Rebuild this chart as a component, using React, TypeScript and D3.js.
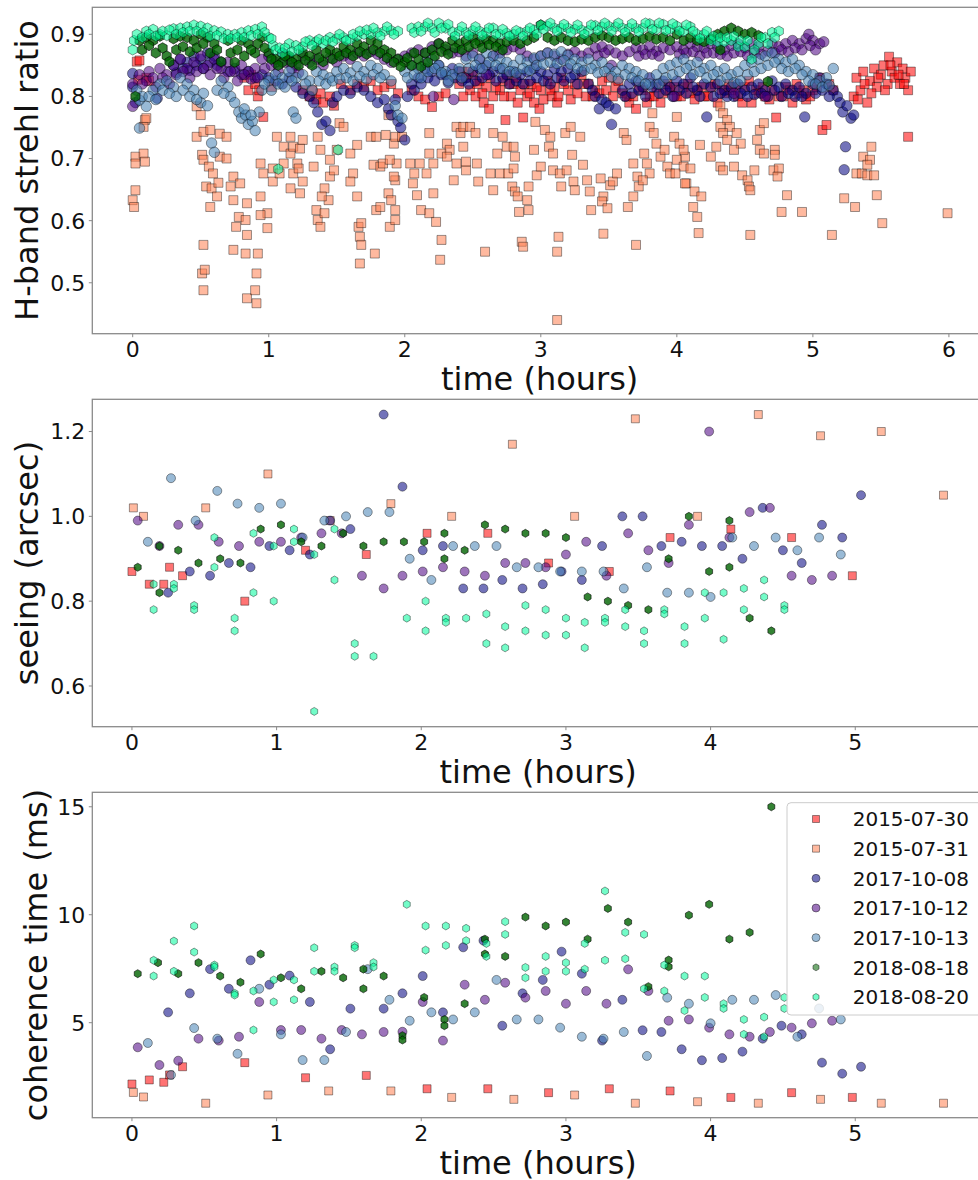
import { useEffect, useRef } from 'react';
import * as d3 from 'd3';

type Pt = [number, number]; // [time (hours), value]

const nights = ['2015-07-30', '2015-07-31', '2017-10-08', '2017-10-12', '2017-10-13', '2018-08-18', '2018-08-20'];
const nightColors = ['red', 'coral', 'navy', 'indigo', 'steelblue', 'darkgreen', 'mediumspringgreen'];
const nightShapes = ['square', 'square', 'circle', 'circle', 'circle', 'hexagon', 'hexagon'];

const timeTicksTop = [0, 1, 2, 3, 4, 5, 6];
const timeTicks = [0, 1, 2, 3, 4, 5];
const strehlTicks = [0.5, 0.6, 0.7, 0.8, 0.9];
const seeingTicks = [0.6, 0.8, 1.0, 1.2];
const coherenceTicks = [5, 10, 15];

// ---- H-band strehl ratio ----
const strehl0730: Pt[] = [[0.03,.856],[0.05,.858],[0.04,.827],[0.1,.83],[0.12,.825],[0.82,.83],[0.85,.81],[0.87,.835],[0.9,.82],[0.92,.8],[0.93,.81],[0.96,.767],[1.02,.815],[1.25,.81],[1.3,.8],[1.32,.81],[1.35,.795],[1.38,.805],[1.4,.79],[1.45,.8],[1.48,.785],[1.53,.82],[1.6,.81],[1.65,.82],[1.7,.815],[1.75,.825],[1.8,.81],[1.85,.815],[1.9,.82],[1.95,.805],[2.05,.81],[2.1,.8],[2.15,.795],[2.2,.783],[2.25,.8],[2.3,.805],[2.4,.82],[2.42,.84],[2.45,.83],[2.48,.81],[2.5,.835],[2.52,.8],[2.55,.825],[2.58,.79],[2.6,.815],[2.62,.78],[2.65,.8],[2.7,.81],[2.72,.825],[2.74,.762],[2.75,.835],[2.78,.8],[2.8,.82],[2.83,.79],[2.85,.81],[2.87,.766],[2.9,.8],[2.93,.82],[2.95,.79],[2.99,.78],[3.0,.81],[3.05,.825],[3.08,.8],[3.1,.815],[3.12,.79],[3.15,.83],[3.2,.81],[3.25,.82],[3.3,.835],[3.33,.8],[3.35,.82],[3.4,.81],[3.45,.825],[3.5,.83],[3.55,.815],[3.6,.805],[3.65,.79],[3.68,.8],[3.7,.78],[3.75,.81],[3.8,.8],[3.85,.815],[3.9,.805],[3.95,.81],[4.0,.8],[4.05,.815],[4.1,.805],[4.15,.81],[4.2,.8],[4.25,.815],[4.3,.79],[4.35,.805],[4.4,.81],[4.45,.8],[4.5,.815],[4.55,.79],[4.6,.805],[4.65,.8],[4.7,.81],[4.73,.766],[4.75,.8],[4.8,.815],[4.85,.79],[4.9,.805],[4.95,.795],[5.0,.81],[5.05,.83],[5.07,.746],[5.1,.754],[5.12,.82],[5.15,.81],[5.3,.8],[5.32,.83],[5.35,.81],[5.37,.84],[5.4,.79],[5.42,.825],[5.45,.845],[5.47,.815],[5.5,.835],[5.52,.85],[5.55,.82],[5.56,.864],[5.58,.84],[5.6,.83],[5.62,.855],[5.64,.82],[5.66,.845],[5.68,.83],[5.7,.735],[5.72,.84],[5.7,.81],
  [2.43,.8],[2.47,.84],[2.53,.82],[2.57,.805],[2.63,.83],[2.67,.815],[2.73,.8],[2.77,.82],[2.82,.83],[2.88,.82],[2.92,.805],[2.97,.815],[3.02,.795],[3.07,.81],[3.13,.8],[3.17,.82],[3.22,.795],[3.27,.805],[3.32,.82],[3.38,.8],[3.43,.805],[3.48,.81],[3.53,.8],[3.57,.825],[3.63,.8],[3.72,.815],[3.78,.79],[3.83,.8],[3.88,.79],[3.93,.82],[3.98,.815],[4.03,.8],[4.08,.82],[4.13,.795],[4.18,.815],[4.23,.8],[4.28,.82],[4.33,.81],[4.38,.82],[4.43,.815],[4.48,.79],[4.53,.825],[4.58,.81],[4.63,.815],[4.68,.795],[4.78,.8],[4.83,.81],[4.88,.82],[4.93,.81],[4.98,.8],[5.03,.815],[5.33,.795],[5.38,.82],[5.43,.805],[5.48,.83],[5.53,.81],[5.57,.85],[5.63,.835],[5.67,.82]];

const strehl0731: Pt[] = [[0.0,.633],[0.01,.622],[0.02,.649],[0.02,.703],[0.02,.692],[0.08,.708],[0.09,.695],[0.09,.762],[0.08,.751],[0.1,.765],[0.47,.784],[0.5,.77],[0.47,.735],[0.52,.743],[0.51,.706],[0.57,.746],[0.64,.74],[0.69,.735],[0.52,.698],[0.56,.687],[0.59,.676],[0.54,.655],[0.58,.652],[0.52,.561],[0.51,.515],[0.53,.521],[0.52,.488],[0.57,.622],[0.63,.661],[0.64,.703],[0.62,.639],[0.69,.7],[0.74,.671],[0.72,.655],[0.79,.66],[0.74,.633],[0.78,.606],[0.83,.601],[0.76,.59],[0.84,.628],[0.84,.577],[0.74,.553],[0.83,.547],[0.92,.547],[0.84,.475],[0.91,.467],[0.9,.488],[0.91,.515],[0.94,.692],[0.96,.676],[0.94,.639],[0.99,.612],[0.99,.588],[0.94,.609],[1.03,.684],[1.06,.735],[1.11,.719],[1.16,.708],[1.18,.719],[1.23,.716],[1.11,.692],[1.03,.663],[1.08,.676],[1.16,.652],[1.18,.676],[1.23,.644],[1.25,.663],[1.25,.73],[1.16,.735],[1.21,.692],[1.22,.684],[1.33,.687],[1.36,.735],[1.38,.714],[1.35,.617],[1.36,.601],[1.38,.59],[1.41,.612],[1.41,.652],[1.44,.633],[1.45,.698],[1.45,.671],[1.5,.714],[1.52,.757],[1.55,.751],[1.48,.681],[1.39,.639],[1.6,.708],[1.65,.722],[1.62,.676],[1.6,.663],[1.65,.639],[1.66,.59],[1.67,.574],[1.67,.531],[1.68,.561],[1.68,.596],[1.75,.735],[1.79,.735],[1.77,.69],[1.82,.687],[1.78,.547],[1.79,.617],[1.82,.622],[1.88,.644],[1.89,.59],[1.88,.77],[1.92,.724],[1.94,.692],[1.93,.665],[1.86,.738],[1.93,.735],[1.98,.735],[1.84,.692],[1.89,.698],[1.92,.671],[1.9,.633],[1.93,.617],[1.93,.601],[2.04,.692],[2.07,.676],[2.06,.66],[2.11,.692],[2.18,.708],[2.21,.692],[2.18,.741],[2.16,.676],[2.09,.641],[2.12,.617],[2.21,.644],[2.18,.612],[2.23,.598],[2.27,.569],[2.26,.537],[2.27,.708],[2.31,.724],[2.33,.714],[2.38,.751],[2.41,.741],[2.43,.751],[2.48,.751],[2.52,.741],[2.38,.692],[2.45,.681],[2.53,.692],[2.43,.719],[2.31,.703],[2.36,.665],[2.45,.695],[2.54,.663],[2.59,.55],[2.63,.676],[2.65,.649],[2.68,.708],[2.65,.741],[2.72,.735],[2.75,.719],[2.7,.676],[2.76,.676],[2.8,.684],[2.79,.655],[2.81,.647],[2.83,.639],[2.84,.614],[2.9,.633],[2.91,.617],[2.86,.566],[2.87,.558],[2.8,.719],[2.81,.703],[2.91,.655],[2.96,.759],[2.97,.673],[2.95,.714],[3.0,.687],[3.03,.746],[3.07,.735],[3.06,.719],[3.09,.708],[3.09,.681],[3.13,.574],[3.12,.55],[3.12,.44],[3.14,.676],[3.19,.681],[3.23,.706],[3.24,.663],[3.18,.741],[3.22,.751],[3.15,.655],[3.25,.649],[3.29,.735],[3.34,.665],[3.36,.647],[3.37,.617],[3.31,.69],[3.44,.668],[3.46,.639],[3.45,.631],[3.49,.62],[3.46,.579],[3.51,.657],[3.53,.663],[3.56,.676],[3.61,.741],[3.63,.73],[3.64,.622],[3.7,.561],[3.68,.692],[3.76,.708],[3.8,.751],[3.83,.741],[3.85,.724],[3.78,.692],[3.8,.676],[3.88,.703],[3.91,.714],[3.93,.687],[3.95,.676],[3.98,.735],[4.0,.767],[4.02,.724],[4.06,.703],[4.07,.66],[3.82,.773],[3.71,.671],[3.72,.655],[3.68,.639],[3.75,.665],[4.05,.714],[4.0,.698],[4.05,.687],[3.99,.676],[4.1,.684],[4.06,.66],[4.13,.647],[4.18,.639],[4.12,.622],[4.15,.606],[4.16,.58],[4.17,.722],[4.25,.703],[4.29,.719],[4.32,.784],[4.34,.773],[4.37,.762],[4.32,.751],[4.39,.751],[4.34,.741],[4.37,.73],[4.44,.741],[4.47,.724],[4.42,.714],[4.32,.687],[4.34,.681],[4.42,.687],[4.48,.673],[4.52,.665],[4.53,.655],[4.54,.649],[4.54,.577],[4.57,.681],[4.59,.73],[4.61,.746],[4.64,.757],[4.61,.714],[4.64,.708],[4.72,.714],[4.72,.706],[4.71,.681],[4.75,.684],[4.74,.671],[4.81,.641],[4.77,.614],[4.92,.614],[5.14,.577],[5.23,.636],[5.31,.622],[5.32,.676],[5.36,.676],[5.4,.673],[5.45,.673],[5.37,.703],[5.42,.698],[5.43,.719],[5.4,.69],[5.47,.641],[5.51,.596],[5.99,.612]];

const strehl1008: Pt[] = [[0.0,.837],[0.0,.815],[0.02,.79],[0.18,.797],[0.3,.85],[0.35,.86],[0.4,.855],[0.45,.865],[0.5,.86],[0.55,.87],[0.6,.865],[0.65,.855],[0.7,.84],[0.75,.845],[0.8,.835],[0.85,.84],[0.9,.83],[0.95,.835],[1.0,.83],[1.05,.825],[1.1,.82],[1.15,.83],[1.2,.815],[1.25,.805],[1.3,.8],[1.33,.79],[1.36,.775],[1.39,.755],[1.42,.76],[1.45,.745],[1.47,.79],[1.5,.8],[1.55,.81],[1.6,.805],[1.65,.815],[1.7,.81],[1.75,.8],[1.8,.79],[1.85,.795],[1.88,.78],[1.9,.77],[1.93,.795],[1.95,.76],[1.97,.75],[2.0,.73],[2.02,.8],[2.05,.82],[2.1,.83],[2.15,.845],[2.2,.84],[2.25,.85],[2.3,.835],[2.35,.845],[2.4,.84],[2.45,.83],[2.5,.84],[2.55,.845],[2.6,.85],[2.65,.84],[2.7,.845],[2.75,.835],[2.8,.84],[2.85,.835],[2.9,.84],[2.95,.845],[3.0,.84],[3.05,.835],[3.1,.845],[3.15,.84],[3.2,.845],[3.25,.835],[3.3,.84],[3.35,.82],[3.38,.81],[3.4,.8],[3.43,.78],[3.45,.795],[3.48,.79],[3.5,.785],[3.52,.755],[3.55,.78],[3.6,.81],[3.65,.82],[3.7,.825],[3.75,.815],[3.8,.83],[3.85,.82],[3.9,.825],[3.95,.815],[4.0,.825],[4.05,.82],[4.1,.83],[4.15,.81],[4.2,.82],[4.22,.767],[4.25,.815],[4.3,.82],[4.35,.81],[4.4,.815],[4.45,.82],[4.5,.81],[4.55,.815],[4.6,.82],[4.65,.81],[4.7,.825],[4.75,.815],[4.8,.82],[4.85,.81],[4.9,.815],[4.94,.767],[4.95,.805],[5.0,.82],[5.05,.83],[5.1,.82],[5.15,.81],[5.18,.8],[5.2,.79],[5.22,.775],[5.24,.719],[5.23,.682],[5.25,.785],[5.28,.765],[5.3,.77],
  [0.32,.838],[0.37,.845],[0.42,.842],[0.47,.85],[0.52,.845],[0.57,.855],[0.62,.85],[2.07,.81],[2.12,.82],[2.17,.83],[2.22,.825],[2.27,.835],[2.32,.822],[2.37,.83],[2.42,.825],[2.47,.82],[2.52,.825],[2.57,.83],[2.62,.835],[2.67,.825],[2.72,.83],[2.77,.82],[2.82,.825],[2.87,.82],[2.92,.825],[2.97,.83],[3.02,.825],[3.07,.82],[3.12,.83],[3.17,.825],[3.22,.83],[3.27,.82],[3.62,.8],[3.67,.805],[3.72,.81],[3.77,.8],[3.82,.815],[3.87,.805],[3.92,.81],[3.97,.8],[4.02,.81],[4.07,.805],[4.12,.815],[4.17,.8],[4.27,.8],[4.32,.805],[4.37,.8],[4.42,.8],[4.47,.805],[4.52,.8],[4.57,.803],[4.62,.805],[4.67,.8],[4.72,.81],[4.77,.8],[4.82,.805],[4.87,.8],[4.92,.8],[5.02,.805],[5.07,.81],[5.12,.8]];

const strehl1012: Pt[] = [[0.0,.784],[0.0,.82],[0.05,.835],[0.1,.825],[0.12,.84],[0.15,.83],[0.2,.845],[0.25,.835],[0.3,.85],[0.35,.86],[0.4,.845],[0.45,.855],[0.5,.865],[0.55,.85],[0.6,.86],[0.65,.845],[0.7,.855],[0.75,.84],[0.8,.85],[0.85,.84],[0.9,.845],[0.95,.86],[1.0,.865],[1.05,.855],[1.1,.87],[1.15,.86],[1.2,.85],[1.25,.865],[1.3,.855],[1.35,.86],[1.4,.85],[1.45,.862],[1.5,.855],[1.55,.865],[1.6,.86],[1.65,.87],[1.7,.865],[1.75,.872],[1.8,.868],[1.85,.86],[1.9,.855],[1.95,.86],[2.0,.865],[2.05,.87],[2.1,.875],[2.15,.87],[2.2,.88],[2.21,.8],[2.25,.885],[2.3,.875],[2.35,.87],[2.36,.795],[2.4,.872],[2.45,.865],[2.5,.87],[2.55,.86],[2.6,.835],[2.65,.865],[2.7,.87],[2.75,.875],[2.8,.88],[2.85,.875],[2.9,.865],[2.95,.86],[3.0,.865],[3.05,.87],[3.1,.865],[3.15,.86],[3.2,.868],[3.25,.872],[3.3,.865],[3.35,.87],[3.4,.878],[3.45,.88],[3.5,.875],[3.52,.85],[3.55,.87],[3.6,.865],[3.65,.872],[3.7,.878],[3.75,.875],[3.8,.88],[3.85,.873],[3.9,.878],[3.95,.875],[3.98,.8],[4.0,.88],[4.05,.875],[4.1,.885],[4.15,.88],[4.2,.878],[4.25,.885],[4.3,.88],[4.35,.875],[4.4,.882],[4.42,.805],[4.45,.885],[4.5,.878],[4.55,.885],[4.6,.88],[4.65,.8],[4.7,.885],[4.75,.88],[4.8,.885],[4.85,.89],[4.9,.885],[4.95,.893],[4.97,.9],[5.0,.89],[5.05,.885],[5.08,.888],
  [0.07,.82],[0.17,.815],[0.22,.83],[0.27,.82],[0.32,.835],[0.37,.84],[0.42,.83],[0.47,.84],[0.52,.845],[0.57,.835],[0.62,.845],[0.67,.83],[0.72,.84],[0.77,.825],[0.82,.835],[0.87,.828],[0.92,.83],[0.97,.845],[1.02,.85],[1.07,.84],[1.12,.855],[1.17,.845],[1.22,.838],[3.42,.865],[3.47,.87],[3.72,.865],[3.77,.868],[3.82,.868],[3.87,.865],[4.02,.868],[4.07,.87],[4.12,.872],[4.17,.865],[4.22,.87],[4.27,.87],[4.32,.868],[4.37,.865],[4.42,.87],[4.47,.872],[4.52,.866],[4.57,.87],[4.62,.868],[4.67,.873],[4.72,.87],[4.77,.875],[4.82,.872],[4.87,.878],[4.92,.875],[4.98,.882],[5.02,.875]];

const strehl1013: Pt[] = [[0.03,.81],[0.05,.794],[0.05,.749],[0.1,.784],[0.15,.81],[0.2,.82],[0.25,.825],[0.3,.815],[0.35,.83],[0.4,.82],[0.45,.81],[0.5,.79],[0.52,.805],[0.55,.785],[0.58,.725],[0.6,.71],[0.62,.81],[0.65,.825],[0.7,.815],[0.72,.8],[0.75,.79],[0.78,.775],[0.8,.765],[0.83,.77],[0.85,.755],[0.88,.76],[0.9,.745],[0.93,.775],[0.95,.81],[1.0,.825],[1.05,.835],[1.1,.83],[1.15,.84],[1.2,.83],[1.18,.775],[1.2,.765],[1.25,.835],[1.3,.825],[1.35,.84],[1.4,.835],[1.45,.83],[1.5,.84],[1.55,.845],[1.6,.838],[1.65,.848],[1.7,.84],[1.75,.85],[1.8,.845],[1.85,.835],[1.9,.825],[1.93,.785],[1.95,.77],[1.98,.765],[2.0,.84],[2.05,.85],[2.1,.845],[2.15,.855],[2.2,.86],[2.25,.85],[2.3,.84],[2.35,.835],[2.4,.845],[2.45,.86],[2.5,.865],[2.55,.86],[2.6,.87],[2.65,.865],[2.7,.86],[2.75,.855],[2.8,.85],[2.85,.86],[2.9,.855],[2.95,.862],[3.0,.865],[3.05,.87],[3.1,.868],[3.15,.872],[3.2,.866],[3.25,.86],[3.3,.855],[3.35,.86],[3.4,.85],[3.45,.855],[3.5,.845],[3.55,.84],[3.6,.85],[3.65,.845],[3.7,.84],[3.75,.835],[3.8,.82],[3.85,.835],[3.9,.845],[3.95,.85],[4.0,.855],[4.05,.86],[4.1,.85],[4.15,.855],[4.2,.845],[4.25,.85],[4.3,.84],[4.35,.845],[4.4,.835],[4.45,.84],[4.5,.85],[4.55,.855],[4.6,.86],[4.65,.865],[4.7,.87],[4.75,.86],[4.8,.855],[4.85,.86],[4.9,.85],[4.95,.84],[5.0,.835],[5.05,.825],[5.1,.83],[5.15,.845],
  [0.07,.8],[0.12,.8],[0.17,.795],[0.22,.81],[0.27,.805],[0.32,.8],[0.37,.81],[0.42,.8],[0.47,.795],[0.67,.805],[0.82,.78],[0.87,.77],[0.97,.82],[1.02,.81],[1.07,.82],[1.12,.815],[1.17,.825],[1.27,.82],[1.32,.81],[1.37,.825],[1.42,.82],[1.47,.825],[1.52,.828],[1.57,.83],[1.62,.825],[1.67,.832],[1.72,.828],[1.77,.835],[1.82,.83],[2.02,.83],[2.07,.835],[2.12,.83],[2.17,.84],[2.22,.845],[2.27,.838],[2.32,.825],[2.42,.83],[2.47,.845],[2.52,.85],[2.57,.845],[2.62,.855],[2.67,.85],[2.72,.845],[2.77,.84],[2.82,.838],[2.87,.845],[2.92,.842],[2.97,.85],[3.02,.852],[3.07,.855],[3.12,.853],[3.17,.858],[3.22,.852],[3.27,.845],[3.32,.842],[3.37,.845],[3.42,.838],[3.47,.84],[3.52,.832],[3.57,.828],[3.62,.835],[3.67,.83],[3.72,.825],[3.77,.82],[3.87,.82],[3.92,.83],[3.97,.835],[4.02,.84],[4.07,.845],[4.12,.835],[4.17,.84],[4.22,.83],[4.27,.835],[4.32,.825],[4.37,.83],[4.42,.822],[4.47,.825],[4.52,.835],[4.57,.84],[4.62,.845],[4.67,.85],[4.72,.855],[4.77,.845],[4.82,.84],[4.87,.845],[4.92,.835],[4.97,.825],[5.02,.82],[5.07,.815],[5.12,.818]];

const strehl0818: Pt[] = [[0.02,.8],[0.05,.89],[0.1,.895],[0.15,.89],[0.2,.897],[0.25,.865],[0.27,.856],[0.3,.893],[0.35,.897],[0.4,.895],[0.45,.89],[0.5,.9],[0.55,.895],[0.6,.885],[0.65,.856],[0.7,.89],[0.75,.855],[0.8,.89],[0.85,.885],[0.9,.87],[0.95,.895],[1.0,.87],[1.05,.86],[1.1,.855],[1.15,.865],[1.2,.86],[1.25,.87],[1.3,.865],[1.35,.875],[1.4,.856],[1.45,.875],[1.5,.87],[1.55,.88],[1.6,.875],[1.65,.885],[1.7,.88],[1.75,.89],[1.8,.885],[1.85,.875],[1.9,.87],[1.95,.86],[2.0,.855],[2.05,.85],[2.1,.86],[2.15,.87],[2.2,.875],[2.25,.885],[2.3,.88],[2.35,.89],[2.4,.885],[2.45,.89],[2.5,.895],[2.55,.888],[2.6,.892],[2.65,.89],[2.7,.885],[2.75,.888],[2.8,.89],[2.85,.885],[2.9,.89],[2.95,.895],[3.0,.915],[3.05,.895],[3.1,.89],[3.15,.895],[3.2,.89],[3.25,.888],[3.3,.892],[3.35,.89],[3.4,.895],[3.45,.898],[3.5,.895],[3.55,.89],[3.6,.893],[3.65,.895],[3.7,.89],[3.75,.893],[3.8,.897],[3.85,.892],[3.9,.895],[3.95,.89],[4.0,.9],[4.05,.89],[4.1,.895],[4.15,.89],[4.2,.888],[4.25,.893],[4.3,.9],[4.32,.875],[4.35,.905],[4.4,.91],[4.45,.905],[4.5,.9],[4.55,.903],[4.6,.898],[4.67,.824],
  [0.07,.875],[0.12,.882],[0.17,.87],[0.22,.878],[0.32,.875],[0.37,.88],[0.42,.872],[0.47,.878],[0.52,.885],[0.57,.87],[0.62,.875],[0.72,.87],[0.77,.875],[0.82,.865],[0.87,.875],[0.92,.885],[0.97,.878],[1.02,.86],[1.07,.85],[1.12,.865],[1.17,.855],[1.22,.85],[1.27,.858],[1.32,.85],[1.37,.862],[1.42,.87],[1.47,.86],[1.52,.865],[1.57,.87],[1.62,.865],[1.67,.872],[1.72,.868],[1.77,.875],[1.82,.87],[1.87,.862],[1.92,.855],[1.97,.848],[2.02,.862],[2.07,.87],[2.12,.848],[2.17,.855],[2.22,.865],[2.27,.872],[2.32,.868],[2.37,.878],[2.42,.875],[2.47,.88],[2.52,.885],[2.57,.878],[2.62,.883],[2.67,.88],[2.72,.875]];

const strehl0820: Pt[] = [[0,.875],[0.01,.89],[0.03,.9],[0.1,.905],[0.15,.908],[0.2,.9],[0.25,.898],[0.3,.909],[0.35,.91],[0.4,.912],[0.45,.915],[0.5,.913],[0.55,.91],[0.6,.906],[0.65,.904],[0.7,.9],[0.75,.9],[0.8,.903],[0.85,.906],[0.9,.908],[0.95,.912],[1.0,.895],[1.03,.882],[1.05,.875],[1.07,.683],[1.1,.87],[1.15,.885],[1.2,.882],[1.25,.88],[1.3,.89],[1.35,.888],[1.4,.885],[1.45,.895],[1.5,.893],[1.51,.714],[1.55,.895],[1.6,.892],[1.65,.897],[1.7,.9],[1.75,.9],[1.8,.903],[1.85,.905],[1.9,.906],[1.95,.905],[2.05,.91],[2.1,.912],[2.15,.912],[2.2,.91],[2.25,.918],[2.3,.91],[2.35,.904],[2.4,.905],[2.45,.903],[2.5,.906],[2.55,.905],[2.6,.903],[2.65,.91],[2.7,.9],[2.75,.902],[2.8,.9],[2.85,.903],[2.9,.905],[2.95,.907],[3.0,.915],[3.05,.913],[3.1,.91],[3.15,.91],[3.2,.91],[3.25,.908],[3.3,.907],[3.35,.906],[3.4,.914],[3.45,.912],[3.5,.913],[3.55,.912],[3.6,.91],[3.65,.91],[3.7,.91],[3.75,.91],[3.8,.917],[3.85,.908],[3.9,.916],[3.95,.908],[4.0,.913],[4.05,.905],[4.1,.912],[4.15,.9],[4.2,.9],[4.25,.89],[4.3,.888],[4.35,.888],[4.4,.89],[4.45,.88],[4.5,.88],[4.55,.86],[4.6,.885],[4.65,.895],[4.7,.903],[4.75,.905],
  [0.07,.895],[0.12,.9],[0.17,.897],[0.22,.905],[0.27,.907],[0.32,.9],[0.37,.903],[0.42,.905],[0.47,.905],[0.52,.903],[0.57,.897],[0.62,.898],[0.67,.893],[0.72,.893],[0.77,.895],[0.82,.895],[0.87,.898],[0.92,.9],[0.97,.903],[1.02,.893],[1.08,.878],[1.12,.878],[1.17,.872],[1.22,.875],[1.27,.888],[1.32,.882],[1.37,.892],[1.42,.89],[1.47,.888],[1.52,.9],[1.57,.89],[1.62,.9],[1.67,.905],[1.72,.907],[1.77,.91],[1.82,.897],[1.87,.912],[1.92,.9],[2.07,.903],[2.12,.905],[2.17,.918],[2.22,.903],[2.27,.91],[2.32,.916],[2.37,.897],[2.42,.912],[2.47,.898],[2.52,.912],[2.57,.898],[2.62,.91],[2.67,.9],[2.72,.908],[2.77,.897],[2.82,.906],[2.87,.897],[2.92,.91],[2.97,.9],[3.02,.908],[3.07,.918],[3.12,.905],[3.17,.916],[3.22,.903],[3.27,.915],[3.32,.9],[3.37,.915],[3.42,.906],[3.47,.918],[3.52,.905],[3.57,.918],[3.62,.903],[3.67,.917],[3.72,.904],[3.77,.918],[3.82,.908],[3.87,.918],[3.92,.906],[3.97,.917],[4.02,.905],[4.07,.915],[4.12,.905],[4.17,.893],[4.22,.905],[4.27,.897],[4.32,.895],[4.37,.895],[4.42,.897],[4.47,.89],[4.52,.89],[4.57,.875],[4.62,.895],[4.67,.885],[4.72,.895]];

// ---- seeing (arcsec) ----
const seeing0730: Pt[] = [[0,.87],[0.12,.84],[0.22,.84],[0.26,.88],[0.35,.86],[0.78,.8],[1.2,.92],[1.62,.91],[2.04,.96],[2.46,.96],[2.88,.89],[3.3,.87],[3.72,.95],[4.14,.97],[4.56,.95],[4.98,.86]];
const seeing0731: Pt[] = [[0.01,1.02],[0.08,1.0],[0.51,1.02],[0.94,1.1],[1.37,.99],[1.79,1.03],[2.21,1.0],[2.63,1.17],[3.06,1.0],[3.48,1.23],[3.91,1.0],[4.33,1.24],[4.76,1.19],[5.18,1.2],[5.61,1.05]];
const seeing1008: Pt[] = [[0.25,.82],[0.4,.87],[0.54,.86],[0.67,.89],[0.82,.88],[0.95,.93],[1.09,.92],[1.23,.91],[1.37,.99],[1.51,.97],[1.74,1.24],[1.87,1.07],[2.01,.92],[2.15,.93],[2.29,.83],[2.43,.83],[2.56,.85],[2.7,.83],[2.84,.84],[2.97,.87],[3.11,.85],[3.25,.93],[3.39,1.0],[3.53,1.0],[3.66,.93],[3.8,.94],[3.94,.93],[4.08,.93],[4.22,.9],[4.36,1.02],[4.5,.92],[4.63,.89],[4.77,.98],[4.91,.95],[5.04,1.05]];
const seeing1012: Pt[] = [[0.04,.99],[0.19,.93],[0.32,.98],[0.46,.98],[0.6,.94],[0.74,.93],[0.88,.94],[1.03,.94],[1.17,.95],[1.31,.96],[1.45,.96],[1.59,.86],[1.74,.83],[1.87,.86],[2.01,.87],[2.15,.88],[2.3,.87],[2.44,.86],[2.58,.89],[2.72,.89],[2.86,.88],[3.0,.91],[3.14,.94],[3.28,.86],[3.43,.96],[3.57,.92],[3.71,.89],[3.85,.98],[3.99,1.2],[4.13,.95],[4.27,1.01],[4.41,1.02],[4.56,.86],[4.7,.85],[4.84,.86]];
const seeing1013: Pt[] = [[0.11,.94],[0.27,1.09],[0.44,.99],[0.59,1.06],[0.73,1.03],[0.88,1.02],[1.03,1.03],[1.18,.95],[1.33,.99],[1.48,1.0],[1.63,1.01],[1.78,1.01],[1.92,.9],[2.07,.85],[2.22,.93],[2.37,.93],[2.52,.93],[2.66,.88],[2.81,.88],[2.96,.87],[3.11,.87],[3.26,.87],[3.4,.83],[3.56,.88],[3.7,.82],[3.85,.82],[4.0,.81],[4.15,.95],[4.3,.93],[4.45,.95],[4.6,.92],[4.75,.95],[4.9,.91]];
const seeing0818: Pt[] = [[0.04,.88],[0.19,.93],[0.19,.82],[0.32,.92],[0.46,.89],[0.61,.9],[0.75,.89],[0.89,.97],[1.03,.98],[1.17,.94],[1.31,.93],[1.46,.96],[1.6,.93],[1.74,.94],[1.88,.94],[2.02,.94],[2.16,.96],[2.16,.9],[2.3,.92],[2.44,.98],[2.58,.97],[2.72,.96],[2.86,.96],[3.0,.95],[3.15,.81],[3.29,.8],[3.43,.79],[3.57,.78],[3.71,.9],[3.85,1.0],[3.99,.87],[4.13,.99],[4.13,.88],[4.27,.76],[4.42,.73]];
const seeing0820: Pt[] = [[0.15,.84],[0.15,.78],[0.29,.84],[0.29,.83],[0.43,.79],[0.43,.78],[0.57,.95],[0.57,.88],[0.71,.76],[0.71,.73],[0.84,.96],[0.84,.82],[0.98,.93],[0.98,.8],[1.12,.97],[1.12,.94],[1.26,.91],[1.26,.54],[1.4,.97],[1.4,.85],[1.54,.7],[1.54,.67],[1.67,.67],[1.9,.76],[2.03,.8],[2.03,.73],[2.17,.76],[2.17,.75],[2.31,.76],[2.45,.77],[2.45,.7],[2.58,.74],[2.58,.69],[2.72,.79],[2.72,.73],[2.86,.78],[2.86,.72],[3.0,.76],[3.0,.72],[3.13,.75],[3.13,.69],[3.27,.76],[3.27,.75],[3.41,.78],[3.41,.74],[3.54,.73],[3.54,.7],[3.68,.78],[3.68,.77],[3.82,.74],[3.82,.7],[3.96,.82],[3.96,.76],[4.09,.82],[4.09,.71],[4.23,.83],[4.23,.78],[4.37,.85],[4.37,.81],[4.51,.79],[4.51,.78]];

// ---- coherence time (ms) ----
const coher0730: Pt[] = [[0,2.16],[0.12,2.35],[0.22,2.24],[0.26,2.58],[0.35,2.96],[0.78,3.15],[1.2,2.45],[1.62,2.56],[2.04,1.94],[2.46,1.94],[2.88,1.76],[3.3,1.94],[3.72,1.84],[4.14,1.54],[4.56,1.76],[4.98,1.54]];
const coher0731: Pt[] = [[0.01,1.77],[0.08,1.56],[0.51,1.27],[0.94,1.65],[1.36,1.84],[1.79,1.84],[2.21,1.54],[2.64,1.45],[3.06,1.65],[3.48,1.27],[3.91,1.34],[4.33,1.27],[4.76,1.45],[5.18,1.27],[5.61,1.27]];
const coher1008: Pt[] = [[0.25,5.48],[0.4,6.36],[0.54,7.48],[0.67,6.57],[0.82,7.89],[0.95,6.76],[1.09,7.18],[1.23,5.96],[1.37,3.77],[1.51,5.65],[1.74,5.65],[1.87,6.36],[2.01,7.16],[2.15,5.48],[2.29,8.49],[2.43,8.8],[2.56,4.86],[2.7,6.36],[2.84,6.98],[2.97,8.29],[3.11,7.27],[3.25,4.17],[3.39,6.06],[3.53,4.65],[3.66,4.57],[3.8,3.77],[3.94,3.26],[4.08,3.36],[4.22,3.66],[4.36,4.26],[4.49,4.86],[4.63,4.46],[4.77,3.15],[4.91,2.64],[5.04,2.96]];
const coher1012: Pt[] = [[0.04,3.86],[0.19,3.04],[0.32,3.24],[0.46,4.26],[0.6,4.17],[0.74,4.35],[0.88,5.96],[1.03,4.66],[1.17,4.66],[1.31,4.26],[1.45,4.66],[1.59,4.46],[1.74,4.57],[1.87,4.58],[2.01,5.96],[2.15,4.17],[2.3,6.76],[2.44,6.06],[2.58,6.85],[2.72,6.16],[2.86,6.47],[3.0,5.88],[3.14,6.47],[3.28,5.88],[3.43,7.47],[3.57,6.47],[3.71,5.09],[3.85,5.15],[3.99,4.77],[4.13,4.46],[4.27,4.35],[4.41,4.57],[4.56,4.77],[4.7,4.97],[4.84,5.09]];
const coher1013: Pt[] = [[0.11,4.06],[0.27,2.58],[0.43,4.75],[0.59,4.26],[0.73,3.56],[0.88,6.57],[1.03,4.46],[1.18,3.27],[1.33,3.27],[1.48,4.57],[1.63,7.48],[1.78,6.06],[1.92,5.09],[2.07,5.48],[2.22,5.15],[2.37,5.48],[2.52,6.98],[2.66,5.15],[2.81,5.15],[2.96,4.77],[3.11,4.35],[3.26,4.26],[3.4,4.57],[3.56,3.46],[3.7,6.16],[3.85,5.88],[4.0,4.97],[4.15,6.06],[4.3,6.06],[4.45,6.28],[4.6,4.35],[4.75,5.66],[4.9,5.15]];
const coher0818: Pt[] = [[0.04,7.27],[0.18,7.78],[0.32,7.27],[0.46,7.78],[0.61,7.16],[0.75,6.87],[0.89,8.18],[1.03,7.08],[1.17,6.57],[1.31,7.38],[1.46,7.08],[1.6,6.57],[1.6,7.48],[1.74,7.16],[1.87,4.4],[1.87,4.2],[2.02,6.17],[2.16,5.15],[2.16,4.86],[2.3,5.88],[2.44,8.87],[2.44,8.18],[2.58,8.07],[2.72,9.89],[2.86,9.48],[3.0,9.66],[3.15,8.87],[3.29,10.29],[3.43,9.66],[3.57,6.67],[3.71,7.9],[3.71,7.59],[3.85,9.98],[3.99,10.48],[4.13,8.87],[4.27,9.18],[4.42,15.0]];
const coher0820: Pt[] = [[0.15,7.89],[0.15,7.16],[0.29,8.78],[0.29,7.38],[0.43,9.48],[0.43,8.27],[0.57,7.67],[0.57,7.58],[0.71,6.36],[0.71,6.28],[0.84,6.47],[0.84,4.66],[0.98,6.98],[0.98,5.96],[1.12,6.98],[1.12,6.06],[1.26,8.47],[1.26,7.38],[1.4,7.58],[1.4,7.38],[1.54,8.58],[1.54,8.47],[1.67,7.78],[1.67,7.58],[1.9,10.48],[2.03,9.48],[2.03,8.36],[2.17,9.48],[2.17,8.58],[2.31,9.37],[2.31,8.8],[2.45,8.67],[2.45,8.07],[2.58,9.68],[2.58,9.09],[2.72,7.56],[2.72,7.08],[2.86,8.07],[2.86,7.38],[3.0,7.78],[3.0,7.38],[3.13,8.67],[3.13,7.48],[3.27,11.1],[3.27,7.89],[3.41,9.18],[3.41,7.96],[3.54,9.09],[3.54,6.57],[3.68,7.67],[3.68,6.47],[3.82,7.16],[3.82,5.56],[3.96,7.16],[3.96,6.17],[4.09,5.88],[4.09,5.66],[4.23,5.15],[4.23,4.46],[4.37,5.26],[4.37,4.35],[4.51,6.17],[4.51,5.66]];

const strehlData = [strehl0730, strehl0731, strehl1008, strehl1012, strehl1013, strehl0818, strehl0820];
const seeingData = [seeing0730, seeing0731, seeing1008, seeing1012, seeing1013, seeing0818, seeing0820];
const coherenceData = [coher0730, coher0731, coher1008, coher1012, coher1013, coher0818, coher0820];

const W = 978, H = 1180;
const FONT = 'DejaVu Sans, Verdana, sans-serif';
const SPINE = '#8a8a8a';

// marker path for a shape at a given size (px)
function markerPath(shape: string, s: number): string {
  if (shape === 'square') return d3.symbol(d3.symbolSquare, s * s)()!;
  if (shape === 'circle') return d3.symbol(d3.symbolCircle, Math.PI * (s / 2) * (s / 2))()!;
  const r = s / 2, p = d3.path();
  for (let k = 0; k < 6; k++) {
    const a = -Math.PI / 2 + (k * Math.PI) / 3;
    if (k === 0) p.moveTo(r * Math.cos(a), r * Math.sin(a));
    else p.lineTo(r * Math.cos(a), r * Math.sin(a));
  }
  p.closePath();
  return p.toString();
}

interface Panel {
  top: number; bottom: number; right: number;
  xDomain: [number, number]; yDomain: [number, number];
  xTicks: number[]; yTicks: number[]; fmt: (v: number) => string;
  label: string; labelX: number;
  data: Pt[][];
  sizes: Record<string, number>;
}

const AX_LEFT = 92.3;
const panels: Panel[] = [
  { top: 7.3, bottom: 333.7, right: 987, xDomain: [-0.297, 6.28], yDomain: [0.418, 0.9435],
    xTicks: timeTicksTop, yTicks: strehlTicks, fmt: d3.format('.1f'), label: 'H-band strehl ratio', labelX: 38,
    data: strehlData, sizes: { square: 9, circle: 10.5, hexagon: 10.5 } },
  { top: 399.3, bottom: 726.7, right: 984, xDomain: [-0.274, 5.89], yDomain: [0.504, 1.276],
    xTicks: timeTicks, yTicks: seeingTicks, fmt: d3.format('.1f'), label: 'seeing (arcsec)', labelX: 38,
    data: seeingData, sizes: { square: 8, circle: 9, hexagon: 8 } },
  { top: 792.3, bottom: 1117.7, right: 984, xDomain: [-0.274, 5.89], yDomain: [0.6, 15.67],
    xTicks: timeTicks, yTicks: coherenceTicks, fmt: d3.format('d'), label: 'coherence time (ms)', labelX: 47,
    data: coherenceData, sizes: { square: 8, circle: 9, hexagon: 8 } },
];

export default function App() {
  const ref = useRef<SVGSVGElement>(null);

  useEffect(() => {
    if (!ref.current) return;
    const svg = d3.select(ref.current);
    svg.selectAll('*').remove();
    const defs = svg.append('defs');

    panels.forEach((p, pi) => {
      const x = d3.scaleLinear().domain(p.xDomain).range([AX_LEFT, p.right]);
      const y = d3.scaleLinear().domain(p.yDomain).range([p.bottom, p.top]);

      defs.append('clipPath').attr('id', `clip${pi}`)
        .append('rect').attr('x', AX_LEFT).attr('y', p.top)
        .attr('width', p.right - AX_LEFT).attr('height', p.bottom - p.top);

      const g = svg.append('g').attr('clip-path', `url(#clip${pi})`);
      p.data.forEach((pts, si) => {
        const alpha = si === 5 ? 0.8 : 0.55;
        g.append('g').selectAll('path').data(pts).join('path')
          .attr('d', markerPath(nightShapes[si], p.sizes[nightShapes[si]]))
          .attr('transform', d => `translate(${x(d[0])},${y(d[1])})`)
          .attr('fill', nightColors[si]).attr('fill-opacity', alpha)
          .attr('stroke', '#000').attr('stroke-opacity', alpha * 0.8).attr('stroke-width', 0.9);
      });

      // spines
      svg.append('rect').attr('x', AX_LEFT).attr('y', p.top)
        .attr('width', p.right - AX_LEFT).attr('height', p.bottom - p.top)
        .attr('fill', 'none').attr('stroke', SPINE).attr('stroke-width', 1.3);

      // x ticks
      p.xTicks.forEach(t => {
        svg.append('line').attr('x1', x(t)).attr('x2', x(t)).attr('y1', p.bottom).attr('y2', p.bottom + 3.5)
          .attr('stroke', SPINE).attr('stroke-width', 1);
        svg.append('text').attr('x', x(t)).attr('y', p.bottom + 23.5).attr('text-anchor', 'middle')
          .attr('font-family', FONT).attr('font-size', '22px').attr('fill', '#111').text(String(t));
      });
      // y ticks
      p.yTicks.forEach(v => {
        svg.append('line').attr('x1', AX_LEFT - 3.5).attr('x2', AX_LEFT).attr('y1', y(v)).attr('y2', y(v))
          .attr('stroke', SPINE).attr('stroke-width', 1);
        svg.append('text').attr('x', AX_LEFT - 7).attr('y', y(v)).attr('dy', '0.36em').attr('text-anchor', 'end')
          .attr('font-family', FONT).attr('font-size', '22px').attr('fill', '#111').text(p.fmt(v));
      });

      svg.append('text').attr('x', (AX_LEFT + p.right) / 2).attr('y', p.bottom + 56)
        .attr('text-anchor', 'middle').attr('font-family', FONT).attr('font-size', '32px').attr('fill', '#111')
        .text('time (hours)');
      const cy = (p.top + p.bottom) / 2;
      svg.append('text').attr('transform', `translate(${p.labelX},${cy}) rotate(-90)`)
        .attr('text-anchor', 'middle').attr('font-family', FONT).attr('font-size', '32px').attr('fill', '#111')
        .text(p.label);
    });

    // legend in the coherence panel
    const lg = svg.append('g');
    lg.append('rect').attr('x', 787).attr('y', 802.7).attr('width', 200).attr('height', 212.3).attr('rx', 4)
      .attr('fill', '#fff').attr('fill-opacity', 0.8).attr('stroke', '#cccccc').attr('stroke-width', 1);
    const rowY = d3.scaleLinear().domain([0, nights.length - 1]).range([819, 997]);
    const legSizes: Record<string, number> = { square: 7, circle: 8, hexagon: 7 };
    nights.forEach((n, i) => {
      lg.append('path').attr('d', markerPath(nightShapes[i], legSizes[nightShapes[i]]))
        .attr('transform', `translate(816,${rowY(i)})`)
        .attr('fill', nightColors[i]).attr('fill-opacity', 0.55)
        .attr('stroke', '#000').attr('stroke-opacity', 0.45).attr('stroke-width', 0.9);
      lg.append('text').attr('x', 852.7).attr('y', rowY(i)).attr('dy', '0.36em')
        .attr('font-family', FONT).attr('font-size', '20px').attr('fill', '#111').text(n);
    });
  }, []);

  return (
    <div style={{ position: 'absolute', left: 0, top: 0, width: W, height: H, overflow: 'hidden', background: '#fff' }}>
      <svg ref={ref} width={W} height={H} style={{ display: 'block' }} />
    </div>
  );
}
